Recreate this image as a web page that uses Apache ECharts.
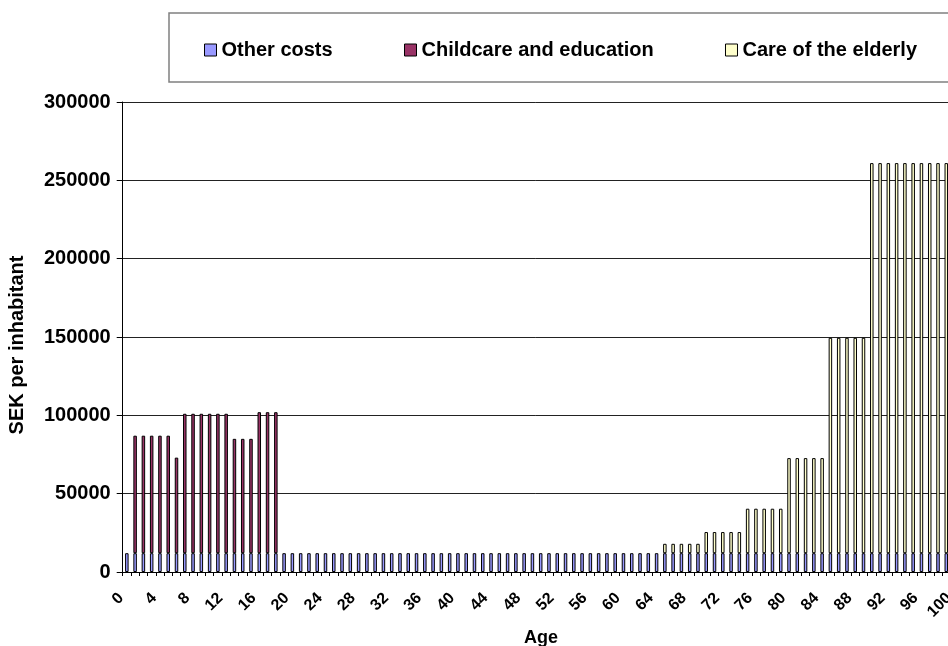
<!DOCTYPE html>
<html><head><meta charset="utf-8">
<script src="https://cdn.jsdelivr.net/npm/echarts@6/dist/echarts.min.js"></script>
<style>html,body{margin:0;padding:0;background:#fff}#c{width:948px;height:646px}</style>
</head><body><div id="c"></div>
<script>
const ages = [
'0','1','2','3','4','5','6','7','8','9',
'10','11','12','13','14','15','16','17','18','19',
'20','21','22','23','24','25','26','27','28','29',
'30','31','32','33','34','35','36','37','38','39',
'40','41','42','43','44','45','46','47','48','49',
'50','51','52','53','54','55','56','57','58','59',
'60','61','62','63','64','65','66','67','68','69',
'70','71','72','73','74','75','76','77','78','79',
'80','81','82','83','84','85','86','87','88','89',
'90','91','92','93','94','95','96','97','98','99',
'100'];

const otherCosts = [
12000,12000,12000,12000,12000,12000,12000,12000,12000,12000,
12000,12000,12000,12000,12000,12000,12000,12000,12000,12000,
12000,12000,12000,12000,12000,12000,12000,12000,12000,12000,
12000,12000,12000,12000,12000,12000,12000,12000,12000,12000,
12000,12000,12000,12000,12000,12000,12000,12000,12000,12000,
12000,12000,12000,12000,12000,12000,12000,12000,12000,12000,
12000,12000,12000,12000,12000,12000,12000,12000,12000,12000,
12000,12000,12000,12000,12000,12000,12000,12000,12000,12000,
12000,12000,12000,12000,12000,12000,12000,12000,12000,12000,
12000,12000,12000,12000,12000,12000,12000,12000,12000,12000,
12000];

const childcare = [
0,75000,75000,75000,75000,75000,61000,89000,89000,89000,
89000,89000,89000,73000,73000,73000,90000,90000,90000,0,
0,0,0,0,0,0,0,0,0,0,
0,0,0,0,0,0,0,0,0,0,
0,0,0,0,0,0,0,0,0,0,
0,0,0,0,0,0,0,0,0,0,
0,0,0,0,0,0,0,0,0,0,
0,0,0,0,0,0,0,0,0,0,
0,0,0,0,0,0,0,0,0,0,
0,0,0,0,0,0,0,0,0,0,
0];

const elderly = [
0,0,0,0,0,0,0,0,0,0,
0,0,0,0,0,0,0,0,0,0,
0,0,0,0,0,0,0,0,0,0,
0,0,0,0,0,0,0,0,0,0,
0,0,0,0,0,0,0,0,0,0,
0,0,0,0,0,0,0,0,0,0,
0,0,0,0,0,6000,6000,6000,6000,6000,
13500,13500,13500,13500,13500,28400,28400,28400,28400,28400,
60700,60700,60700,60700,60700,137500,137500,137500,137500,137500,
249000,249000,249000,249000,249000,249000,249000,249000,249000,249000,
249000];

const seriesNames = ['Other costs', 'Childcare and education', 'Care of the elderly'];
const yTicks = [0, 50000, 100000, 150000, 200000, 250000, 300000];

const FONT = "'Liberation Sans', Arial, sans-serif";
const colors = ['#9999FF', '#993366', '#FFFFCC'];
const blank = v => (v === 0 ? '-' : v);

const chart = echarts.init(document.getElementById('c'), null, {renderer: 'canvas'});

function legendOf(name, pos) {
  return Object.assign({
    data: [name], top: 35, itemWidth: 12, itemHeight: 12, itemGap: 0,
    icon: 'rect', selectedMode: false,
    itemStyle: {borderColor: '#000', borderWidth: 1},
    textStyle: {fontFamily: FONT, fontWeight: 'bold', fontSize: 20, color: '#000'}
  }, pos);
}

const option = {
  animation: false,
  backgroundColor: '#fff',
  color: colors,
  grid: {left: 122.7, top: 102, width: 836, height: 470, containLabel: false, outerBoundsMode: 'none'},
  legend: [
    legendOf(seriesNames[0], {left: 199}),
    legendOf(seriesNames[1], {left: 399}),
    legendOf(seriesNames[2], {right: 26})
  ],
  graphic: [
    {type: 'rect', z: -1, shape: {x: 169, y: 13, width: 800, height: 69},
     style: {fill: '#fff', stroke: '#808080', lineWidth: 1.5}},
    {type: 'text', x: 541, y: 638,
     style: {text: 'Age', fontFamily: FONT, fontWeight: 'bold', fontSize: 18, fill: '#000',
             textAlign: 'center', textVerticalAlign: 'middle'}},
    {type: 'text', x: 17, y: 345, rotation: Math.PI / 2,
     style: {text: 'SEK per inhabitant', fontFamily: FONT, fontWeight: 'bold', fontSize: 20, fill: '#000',
             textAlign: 'center', textVerticalAlign: 'middle'}}
  ],
  xAxis: {
    type: 'category', data: ages, boundaryGap: true,
    axisLine: {lineStyle: {color: '#000', width: 1}},
    axisTick: {show: true, interval: 0, length: 4, lineStyle: {color: '#000'}},
    axisLabel: {interval: 3, rotate: 45, margin: 18, padding: [0, 8, 0, 0], fontFamily: FONT,
                fontWeight: 'bold', fontSize: 16, color: '#000'},
    splitLine: {show: false}
  },
  yAxis: {
    type: 'value', min: yTicks[0], max: yTicks[yTicks.length - 1], interval: yTicks[1] - yTicks[0],
    axisLine: {show: true, lineStyle: {color: '#000', width: 1}},
    axisTick: {show: true, length: 6, lineStyle: {color: '#000'}},
    axisLabel: {margin: 12, fontFamily: FONT, fontWeight: 'bold', fontSize: 20, color: '#000',
                formatter: v => String(v)},
    splitLine: {show: true, lineStyle: {color: '#222', width: 1}}
  },
  series: [
    {name: seriesNames[0], type: 'bar', stack: 'total', barWidth: 3.5,
     itemStyle: {color: colors[0], borderColor: '#000', borderWidth: 1},
     data: otherCosts.map(blank)},
    {name: seriesNames[1], type: 'bar', stack: 'total', barWidth: 3.5,
     itemStyle: {color: colors[1], borderColor: '#000', borderWidth: 1},
     data: childcare.map(blank)},
    {name: seriesNames[2], type: 'bar', stack: 'total', barWidth: 3.5,
     itemStyle: {color: colors[2], borderColor: '#000', borderWidth: 1},
     data: elderly.map(blank)}
  ]
};
chart.setOption(option);
</script>
</body></html>
